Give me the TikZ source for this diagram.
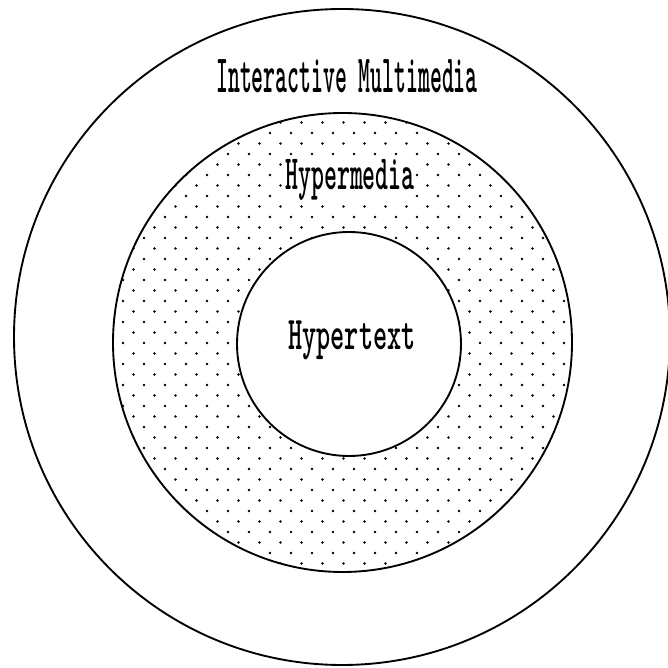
\documentclass[tikz,border=0pt]{standalone}
\usepackage{amsmath}
\usetikzlibrary{positioning}

\begin{document}
\begin{tikzpicture}[
        x=0.3mm, y=0.3mm,
        ring/.style={draw, line width=1.6pt},
        dot_fill/.style={fill=black},
        label_text/.style={anchor=base, inner sep=0pt, font=\ttfamily\bfseries}
    ]

        \useasboundingbox (0,0) rectangle (667,668);

        \coordinate (outerC) at (342,331);
        \coordinate (midC) at (342.5,325.5);
        \coordinate (innerC) at (349,324);

        \begin{scope}
            \clip (midC) circle (229.5);
            \foreach \j [evaluate=\j as \yy using {668-112-10.5*\j},
                         evaluate=\j as \xo using {10.5*mod(\j,2)}] in {0,...,44} {
                \foreach \i in {-1,...,22} {
                    \fill[dot_fill] (102+21*\i+\xo,\yy) circle (1.35);
                }
            }
        \end{scope}

        \fill[white] (innerC) circle (112);

        \draw[ring] (outerC) circle (328);
        \draw[ring] (midC) circle (229.5);
        \draw[ring] (innerC) circle (112);

        \node[label_text, xscale=0.42, font=\fontsize{46}{50}\selectfont\ttfamily\bfseries] (imm) at (347,575) {Interactive Multimedia};
        \node[label_text, xscale=0.50, fill=white, font=\fontsize{42}{46}\selectfont\ttfamily\bfseries] (hm) at (350,478) {Hypermedia};
        \node[label_text, xscale=0.575, font=\fontsize{40}{44}\selectfont\ttfamily\bfseries] (ht) at (352,318) {Hypertext};

    \end{tikzpicture}
\end{document}
